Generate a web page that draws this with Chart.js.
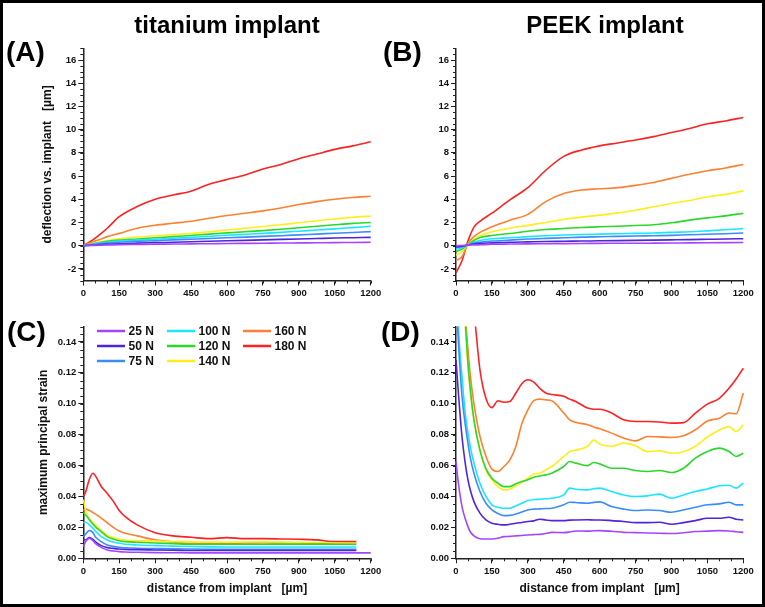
<!DOCTYPE html>
<html>
<head>
<meta charset="utf-8">
<script src="https://cdn.jsdelivr.net/npm/chart.js@4.4.0/dist/chart.umd.min.js"></script>
<style>
html, body { margin: 0; padding: 0; background: #fff; }
#page { position: relative; width: 765px; height: 607px; overflow: hidden; font-family: "Liberation Sans", Arial, sans-serif; }
#page canvas { position: absolute; left: 0; top: 0; }
#frame { position: absolute; left: 0; top: 0; width: 765px; height: 607px; box-sizing: border-box; border: 3px solid #000; pointer-events: none; }
.txt { position: absolute; font-weight: bold; color: #000; white-space: nowrap; line-height: 1; }
.head { font-size: 24px; top: 12.7px; transform: translateX(-50%); }
.tag { font-size: 28px; }
</style>
</head>
<body>
<div id="page">
  <canvas id="chartA" width="765" height="607"></canvas>
  <canvas id="chartB" width="765" height="607"></canvas>
  <canvas id="chartC" width="765" height="607"></canvas>
  <canvas id="chartD" width="765" height="607"></canvas>
  <div class="txt head" style="left:227px">titanium implant</div>
  <div class="txt head" style="left:605px">PEEK implant</div>
  <div class="txt tag" style="left:6px;top:38px">(A)</div>
  <div class="txt tag" style="left:383px;top:38px">(B)</div>
  <div class="txt tag" style="left:7px;top:318px">(C)</div>
  <div class="txt tag" style="left:381px;top:318px">(D)</div>
  <div id="frame"></div>
</div>
<script>
const loads = ['25 N', '50 N', '75 N', '100 N', '120 N', '140 N', '160 N', '180 N'];
const colors = ['#a446ff', '#4f25dc', '#3b8cff', '#19e6ff', '#2ad82a', '#ffee1a', '#ff8030', '#ff2222'];

const distTicks = [0, 150, 300, 450, 600, 750, 900, 1050, 1200];
const deflTicks = [-2, 0, 2, 4, 6, 8, 10, 12, 14, 16];
const strainTicks = [0, 0.02, 0.04, 0.06, 0.08, 0.10, 0.12, 0.14];

// deflection (A, B)
const xDefl = [0, 25, 50, 75, 100, 150, 225, 300, 375, 450, 525, 600, 675, 750, 825, 900, 975, 1050, 1125, 1200];
const tiDefl25 = [0, 0.02, 0.03, 0.05, 0.06, 0.09, 0.11, 0.13, 0.14, 0.16, 0.17, 0.19, 0.2, 0.21, 0.23, 0.24, 0.25, 0.26, 0.28, 0.29];
const tiDefl50 = [0, 0.03, 0.06, 0.1, 0.12, 0.17, 0.22, 0.26, 0.3, 0.34, 0.38, 0.42, 0.46, 0.5, 0.54, 0.58, 0.62, 0.66, 0.69, 0.72];
const tiDefl75 = [0, 0.06, 0.12, 0.18, 0.22, 0.3, 0.37, 0.43, 0.5, 0.56, 0.62, 0.68, 0.74, 0.8, 0.86, 0.93, 1.0, 1.07, 1.14, 1.21];
const tiDefl100 = [0, 0.08, 0.16, 0.25, 0.3, 0.4, 0.48, 0.56, 0.64, 0.72, 0.8, 0.9, 0.98, 1.06, 1.15, 1.25, 1.35, 1.45, 1.56, 1.67];
const tiDefl120 = [0, 0.1, 0.2, 0.3, 0.37, 0.48, 0.58, 0.68, 0.78, 0.88, 1.0, 1.1, 1.2, 1.3, 1.42, 1.55, 1.67, 1.8, 1.92, 2.0];
const tiDefl140 = [0, 0.12, 0.24, 0.35, 0.44, 0.6, 0.75, 0.85, 0.95, 1.05, 1.2, 1.35, 1.5, 1.65, 1.8, 1.98, 2.15, 2.3, 2.45, 2.56];
const tiDefl160 = [0, 0.2, 0.4, 0.58, 0.78, 1.06, 1.5, 1.76, 1.93, 2.1, 2.36, 2.6, 2.8, 3.0, 3.25, 3.55, 3.8, 4.0, 4.15, 4.26];
const tiDefl180 = [0, 0.3, 0.65, 1.06, 1.5, 2.5, 3.37, 4.0, 4.37, 4.7, 5.3, 5.7, 6.1, 6.6, 7.0, 7.5, 7.9, 8.3, 8.6, 8.95];

const peekDefl25 = [0, 0.02, 0.05, 0.06, 0.08, 0.12, 0.14, 0.16, 0.17, 0.18, 0.19, 0.2, 0.21, 0.21, 0.22, 0.23, 0.24, 0.25, 0.26, 0.27];
const peekDefl50 = [-0.1, -0.05, 0.05, 0.14, 0.2, 0.24, 0.3, 0.33, 0.36, 0.38, 0.4, 0.42, 0.44, 0.46, 0.48, 0.5, 0.52, 0.55, 0.58, 0.6];
const peekDefl75 = [-0.15, -0.09, 0.08, 0.22, 0.3, 0.4, 0.48, 0.57, 0.63, 0.68, 0.74, 0.77, 0.8, 0.83, 0.86, 0.89, 0.94, 0.98, 1.03, 1.09];
const peekDefl100 = [-0.3, -0.17, 0.08, 0.3, 0.45, 0.6, 0.68, 0.78, 0.86, 0.92, 0.97, 1.0, 1.03, 1.06, 1.09, 1.15, 1.2, 1.28, 1.37, 1.48];
const peekDefl120 = [-0.5, -0.3, 0.1, 0.45, 0.7, 0.88, 1.05, 1.25, 1.4, 1.48, 1.57, 1.63, 1.68, 1.74, 1.8, 1.97, 2.2, 2.4, 2.57, 2.8];
const peekDefl140 = [-0.8, -0.5, 0.1, 0.57, 0.86, 1.2, 1.5, 1.75, 2.0, 2.26, 2.46, 2.63, 2.83, 3.06, 3.35, 3.63, 3.9, 4.2, 4.42, 4.72];
const peekDefl160 = [-1.25, -0.95, 0.2, 0.78, 1.15, 1.63, 2.2, 2.7, 3.8, 4.5, 4.8, 4.9, 5.0, 5.2, 5.45, 5.8, 6.15, 6.45, 6.7, 7.0];
const peekDefl180 = [-2.35, -1.3, 0.4, 1.6, 2.1, 2.8, 3.95, 5.0, 6.5, 7.7, 8.25, 8.6, 8.85, 9.1, 9.4, 9.75, 10.1, 10.5, 10.75, 11.05];

// strain, titanium (C)
const xStrainTi = [0, 10, 25, 40, 50, 75, 100, 125, 150, 175, 225, 300, 375, 450, 525, 600, 675, 750, 825, 900, 975, 1050, 1140, 1200];
const tiStrain25 = [0.0076, 0.0108, 0.013, 0.0114, 0.0097, 0.0071, 0.0054, 0.0047, 0.0043, 0.0041, 0.0039, 0.0037, 0.0036, 0.0035, 0.0035, 0.0035, 0.0035, 0.0035, 0.0035, 0.0035, 0.0035, 0.0035, 0.0035, 0.0035];
const tiStrain50 = [0.012, 0.012, 0.0134, 0.0123, 0.0108, 0.0082, 0.0069, 0.0064, 0.006, 0.0058, 0.0056, 0.0054, 0.0052, 0.005, 0.005, 0.005, 0.005, 0.005, 0.005, 0.005, 0.005, 0.005, 0.005, null];
const tiStrain75 = [0.014, 0.0158, 0.018, 0.0166, 0.014, 0.0108, 0.0086, 0.0077, 0.0071, 0.0068, 0.0065, 0.0063, 0.0061, 0.006, 0.0059, 0.0058, 0.0058, 0.0058, 0.0058, 0.0058, 0.0058, 0.0058, 0.0058, null];
const tiStrain100 = [0.023, 0.0233, 0.0216, 0.0195, 0.0177, 0.014, 0.0119, 0.0106, 0.0097, 0.0091, 0.0086, 0.0082, 0.0079, 0.0076, 0.0074, 0.0073, 0.0073, 0.0073, 0.0073, 0.0073, 0.0073, 0.0073, 0.0073, null];
const tiStrain120 = [0.03, 0.028, 0.025, 0.0222, 0.0205, 0.0173, 0.014, 0.0125, 0.0114, 0.0108, 0.0104, 0.0099, 0.0095, 0.0091, 0.0091, 0.0091, 0.0091, 0.0091, 0.0092, 0.0092, 0.0092, 0.0091, 0.0091, null];
const tiStrain140 = [0.038, 0.031, 0.026, 0.0232, 0.0216, 0.018, 0.015, 0.0135, 0.0123, 0.0118, 0.0114, 0.0112, 0.0109, 0.0106, 0.0105, 0.0104, 0.0105, 0.0106, 0.0105, 0.0104, 0.0102, 0.0099, 0.0097, null];
const tiStrain160 = [0.031, 0.0318, 0.031, 0.0296, 0.0287, 0.026, 0.023, 0.02, 0.0177, 0.0162, 0.0145, 0.0119, 0.0106, 0.0097, 0.0097, 0.0097, 0.0099, 0.0101, 0.0101, 0.0101, 0.0099, 0.0097, 0.0097, null];
const tiStrain180 = [0.04, 0.043, 0.051, 0.055, 0.0535, 0.0465, 0.042, 0.037, 0.031, 0.027, 0.0216, 0.0166, 0.0145, 0.0136, 0.0127, 0.0134, 0.0127, 0.0127, 0.0125, 0.0123, 0.0119, 0.0108, 0.0108, null];

// strain, PEEK (D)
const xStrainPeek = [0, 10, 25, 40, 50, 60, 75, 100, 125, 150, 175, 200, 225, 250, 275, 300, 325, 350, 375, 400, 450, 475, 500, 550, 575, 600, 650, 700, 750, 800, 850, 900, 950, 1000, 1050, 1100, 1140, 1170, 1200];
const peekStrain25 = [0.0626, 0.0486, 0.0335, 0.025, 0.0205, 0.017, 0.0145, 0.0127, 0.0125, 0.0125, 0.013, 0.014, 0.0142, 0.0145, 0.0148, 0.0151, 0.0153, 0.0155, 0.016, 0.0168, 0.0166, 0.017, 0.0177, 0.0176, 0.0178, 0.0179, 0.0175, 0.0168, 0.0166, 0.0164, 0.0162, 0.016, 0.0165, 0.0173, 0.0176, 0.0179, 0.0177, 0.0172, 0.0168];
const peekStrain50 = [0.1285, 0.107, 0.0788, 0.06, 0.0508, 0.044, 0.0367, 0.0292, 0.0248, 0.0227, 0.022, 0.0216, 0.022, 0.0227, 0.0232, 0.0238, 0.0242, 0.0253, 0.0248, 0.0244, 0.0244, 0.0247, 0.0248, 0.0249, 0.0248, 0.0248, 0.0244, 0.0238, 0.0231, 0.0231, 0.0233, 0.022, 0.0231, 0.0244, 0.0259, 0.0259, 0.0266, 0.0253, 0.0248];
const peekStrain75 = [0.17, 0.14, 0.105, 0.085, 0.0745, 0.065, 0.055, 0.0432, 0.0356, 0.0313, 0.029, 0.0276, 0.0278, 0.0287, 0.03, 0.0313, 0.0318, 0.032, 0.0322, 0.0324, 0.0346, 0.0363, 0.0361, 0.0356, 0.0362, 0.0365, 0.0335, 0.0318, 0.0309, 0.0313, 0.0309, 0.0298, 0.0313, 0.033, 0.0346, 0.0352, 0.0363, 0.0346, 0.0346];
const peekStrain100 = [0.2, 0.15, 0.118, 0.0918, 0.081, 0.072, 0.0616, 0.0486, 0.04, 0.0346, 0.033, 0.0324, 0.0324, 0.0339, 0.0356, 0.0374, 0.038, 0.0382, 0.0385, 0.0389, 0.041, 0.0454, 0.0447, 0.0443, 0.045, 0.0454, 0.0432, 0.041, 0.04, 0.0404, 0.0415, 0.0389, 0.041, 0.0432, 0.0449, 0.0469, 0.0473, 0.0454, 0.0486];
const peekStrain120 = [0.3, 0.24, 0.19, 0.15, 0.126, 0.109, 0.0896, 0.07, 0.058, 0.0518, 0.0486, 0.0464, 0.0464, 0.0482, 0.0497, 0.0508, 0.0525, 0.0533, 0.054, 0.0551, 0.0594, 0.0626, 0.0616, 0.06, 0.062, 0.0611, 0.0583, 0.0583, 0.0568, 0.0562, 0.0568, 0.0555, 0.0583, 0.0648, 0.0691, 0.0713, 0.0691, 0.0659, 0.068];
const peekStrain140 = [0.3, 0.24, 0.185, 0.148, 0.124, 0.107, 0.0896, 0.07, 0.057, 0.0508, 0.0464, 0.0443, 0.0447, 0.0469, 0.049, 0.0518, 0.0546, 0.055, 0.0572, 0.0594, 0.0659, 0.0691, 0.07, 0.0725, 0.0765, 0.074, 0.0725, 0.0745, 0.0728, 0.069, 0.0695, 0.068, 0.069, 0.0725, 0.0785, 0.083, 0.0852, 0.082, 0.0864];
const peekStrain160 = [0.35, 0.28, 0.2, 0.155, 0.135, 0.118, 0.1, 0.079, 0.066, 0.0577, 0.0562, 0.0594, 0.0637, 0.0724, 0.087, 0.096, 0.102, 0.103, 0.1025, 0.102, 0.094, 0.0896, 0.088, 0.0864, 0.085, 0.0838, 0.081, 0.0778, 0.076, 0.0788, 0.0786, 0.0782, 0.0793, 0.0832, 0.0888, 0.0907, 0.094, 0.0935, 0.107];
const peekStrain180 = [0.35, 0.3, 0.25, 0.21, 0.19, 0.178, 0.16, 0.122, 0.1035, 0.0975, 0.102, 0.101, 0.1015, 0.107, 0.113, 0.1155, 0.114, 0.11, 0.107, 0.106, 0.1048, 0.103, 0.1015, 0.0972, 0.0965, 0.0965, 0.094, 0.0896, 0.0885, 0.0885, 0.0882, 0.0875, 0.0878, 0.094, 0.0998, 0.1035, 0.11, 0.116, 0.123];

const FONT = '"Liberation Sans", Arial, sans-serif';
const tickFont = { family: FONT, size: 9.5, weight: 'bold' };
const titleFont = { family: FONT, size: 12, weight: 'bold' };

// small ticks between the labelled ones
const minorTicks = {
  id: 'minorTicks',
  afterDraw(chart) {
    const ctx = chart.ctx, a = chart.chartArea;
    ctx.save();
    ctx.strokeStyle = '#222';
    ctx.lineWidth = 1;
    ['x', 'y'].forEach(id => {
      const s = chart.scales[id], step = s.options.minorStep;
      const n = Math.round((s.max - s.min) / step);
      for (let i = 0; i <= n; i++) {
        const p = Math.round(s.getPixelForValue(s.min + i * step)) + 0.5;
        ctx.beginPath();
        if (id === 'x') { ctx.moveTo(p, a.bottom); ctx.lineTo(p, a.bottom + 3); }
        else { ctx.moveTo(a.left, p); ctx.lineTo(a.left - 3, p); }
        ctx.stroke();
      }
    });
    ctx.restore();
  }
};

// 3-column legend inside panel C
const legendGrid = {
  id: 'legendGrid',
  afterDraw(chart, args, opts) {
    if (!opts.show) return;
    const ctx = chart.ctx;
    ctx.save();
    ctx.font = 'bold 12px ' + FONT;
    ctx.textBaseline = 'middle';
    ctx.fillStyle = '#111';
    chart.data.datasets.forEach((ds, i) => {
      const x = opts.cols[Math.floor(i / 3)], y = opts.top + (i % 3) * opts.rowH;
      ctx.strokeStyle = ds.borderColor;
      ctx.lineWidth = 2.5;
      ctx.beginPath();
      ctx.moveTo(x, y);
      ctx.lineTo(x + 28, y);
      ctx.stroke();
      ctx.fillText(ds.label, x + 31.5, y + 0.5);
    });
    ctx.restore();
  }
};

function panel(id, xs, series, cfg) {
  return new Chart(document.getElementById(id), {
    type: 'line',
    data: {
      datasets: series.map((ys, i) => ({
        label: loads[i],
        data: xs.map((x, j) => ({ x: x, y: ys[j] })),
        borderColor: colors[i],
        backgroundColor: colors[i],
        borderWidth: 1.6,
        pointRadius: 0,
        cubicInterpolationMode: 'monotone',
        clip: { left: 2, right: 2, top: 0, bottom: 2 }
      }))
    },
    options: {
      responsive: false,
      animation: false,
      events: [],
      layout: { padding: cfg.padding },
      plugins: {
        legend: { display: false },
        tooltip: { enabled: false },
        legendGrid: cfg.legend || { show: false }
      },
      scales: {
        x: {
          type: 'linear', min: 0, max: 1200, minorStep: 50,
          border: { display: true, color: '#222', width: 1.5 },
          grid: { drawOnChartArea: false, tickLength: 5, color: '#222' },
          ticks: { autoSkip: false, maxRotation: 0, padding: 2, color: '#111', font: tickFont, callback: v => String(v) },
          afterBuildTicks: s => { s.ticks = distTicks.map(v => ({ value: v })); },
          title: {
            display: !!cfg.xTitle, text: cfg.xTitle || '', color: '#111', font: titleFont,
            padding: { top: 0, bottom: 2 }
          },
          afterFit: s => { s.height = cfg.xH; s.paddingLeft = 0; s.paddingRight = 0; }
        },
        y: {
          type: 'linear', min: cfg.yMin, max: cfg.yMax, minorStep: cfg.yMinor,
          border: { display: true, color: '#222', width: 1.5 },
          grid: { drawOnChartArea: false, tickLength: 5, color: '#222' },
          ticks: { padding: 2, color: '#111', font: tickFont, callback: cfg.yFmt },
          afterBuildTicks: s => { s.ticks = cfg.yTicks.map(v => ({ value: v })); },
          title: {
            display: !!cfg.yTitle, text: cfg.yTitle || '', color: '#111', font: titleFont,
            padding: { top: cfg.yTitlePad || 0, bottom: 0 }
          },
          afterFit: s => { s.width = cfg.yW; s.paddingTop = 0; s.paddingBottom = 0; }
        }
      }
    },
    plugins: [minorTicks, legendGrid]
  });
}

const deflFmt = v => String(v);
const strainFmt = v => v.toFixed(2);

panel('chartA', xDefl,
  [tiDefl25, tiDefl50, tiDefl75, tiDefl100, tiDefl120, tiDefl140, tiDefl160, tiDefl180], {
  padding: { left: 38.3, top: 48.4, right: 394.3, bottom: 301.5 },
  yW: 45, xH: 25, yMin: -3, yMax: 17, yMinor: 0.5, yTicks: deflTicks, yFmt: deflFmt,
  yTitle: 'deflection vs. implant   [µm]', yTitlePad: 2.5
});

panel('chartB', xDefl,
  [peekDefl25, peekDefl50, peekDefl75, peekDefl100, peekDefl120, peekDefl140, peekDefl160, peekDefl180], {
  padding: { left: 411, top: 48.4, right: 21.7, bottom: 301.5 },
  yW: 45, xH: 25, yMin: -3, yMax: 17, yMinor: 0.5, yTicks: deflTicks, yFmt: deflFmt
});

panel('chartC', xStrainTi,
  [tiStrain25, tiStrain50, tiStrain75, tiStrain100, tiStrain120, tiStrain140, tiStrain160, tiStrain180], {
  padding: { left: 36.3, top: 326.5, right: 394.3, bottom: 8.7 },
  yW: 47, xH: 40, yMin: 0, yMax: 0.15, yMinor: 0.005, yTicks: strainTicks, yFmt: strainFmt,
  yTitle: 'maximum principal strain', xTitle: 'distance from implant   [µm]',
  legend: { show: true, cols: [97, 167, 243], top: 331, rowH: 15 }
});

panel('chartD', xStrainPeek,
  [peekStrain25, peekStrain50, peekStrain75, peekStrain100, peekStrain120, peekStrain140, peekStrain160, peekStrain180], {
  padding: { left: 409, top: 326.5, right: 21.7, bottom: 8.7 },
  yW: 47, xH: 40, yMin: 0, yMax: 0.15, yMinor: 0.005, yTicks: strainTicks, yFmt: strainFmt,
  xTitle: 'distance from implant   [µm]'
});
</script>
</body>
</html>
